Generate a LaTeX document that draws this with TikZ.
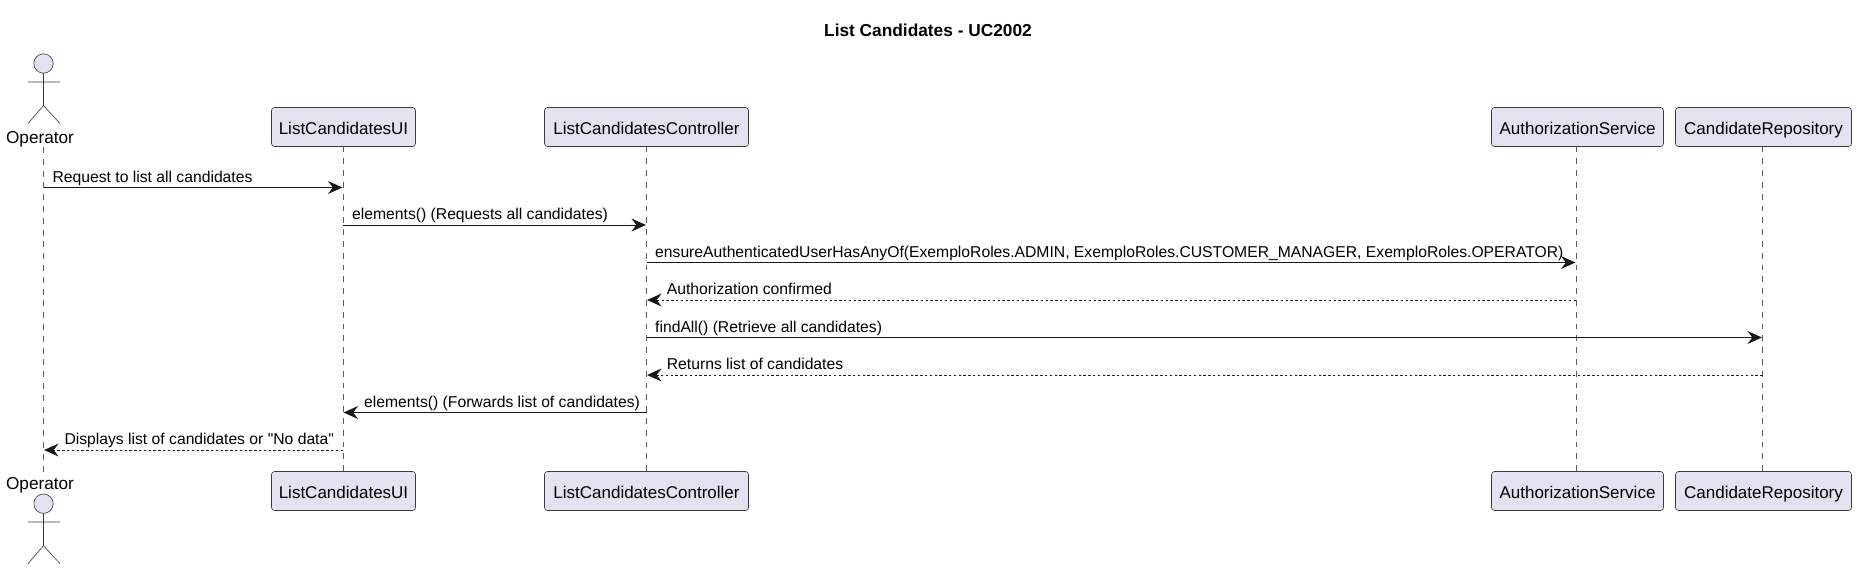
\documentclass[tikz,border=0pt]{standalone}
\usepackage{fontspec}
\setmainfont{Liberation Sans}
\newfontfamily\straightfont{Liberation Sans}
\usetikzlibrary{arrows.meta,positioning}
\definecolor{ink}{HTML}{181818}
\definecolor{partfill}{HTML}{E2E2F0}
\tikzset{
  x=1pt,y=-1pt,
  part/.style={draw=ink!85,fill=partfill,line width=0.6pt,rounded corners=3pt,minimum height=39pt,inner sep=0pt,outer sep=0pt,text height=18pt,text depth=3.4pt,font=\fontsize{17}{19}\selectfont,text=black},
  lifeline/.style={draw=ink!70,line width=0.6pt,dash pattern=on 5.9pt off 5.9pt},
  actorline/.style={draw=ink!85,line width=0.6pt,line cap=round},
  actorhead/.style={draw=ink!85,fill=partfill,line width=0.6pt,circle,minimum size=19.4pt,inner sep=0pt,outer sep=0pt},
  msgtip/.style={-{Stealth[length=14.5pt,width=13pt,inset=5pt,color=ink]}},
  msg/.style={draw=ink,line width=1pt,msgtip,shorten >=0.6pt},
  ret/.style={draw=ink,line width=1pt,dash pattern=on 2.4pt off 2.4pt,msgtip,shorten >=0.6pt},
  msglabel/.style={anchor=base west,inner sep=0pt,font=\fontsize{15.7}{17}\selectfont,text=black},
  actorlabel/.style={inner sep=0pt,anchor=base,font=\fontsize{17.2}{19}\selectfont,text=black},
  titlelabel/.style={inner sep=0pt,anchor=base,font=\fontsize{17.3}{19}\selectfont\bfseries,text=black}
}
\begin{document}
\begin{tikzpicture}
\useasboundingbox[fill=white] (0,0) rectangle (1857,570);
\node[titlelabel] (title) at (928,36) {List Candidates - UC2002};

% rows
\coordinate (r1) at (0,187.5);
\coordinate (r2) at (0,225);
\coordinate (r3) at (0,262.5);
\coordinate (r4) at (0,300);
\coordinate (r5) at (0,337.5);
\coordinate (r6) at (0,375);
\coordinate (r7) at (0,412.5);
\coordinate (r8) at (0,450);

% lifeline anchors for the actor
\coordinate (opT) at (43.5,147);
\coordinate (opB) at (43.5,471.5);

% participants top
\node[part,minimum width=144pt] (uiT) at (343.5,127) {ListCandidatesUI};
\node[part,minimum width=204pt] (ctlT) at (646.5,127) {ListCandidatesController};
\node[part,minimum width=172pt] (authT) at (1577.5,127) {AuthorizationService};
\node[part,minimum width=176pt] (repoT) at (1763.5,127) {CandidateRepository};
% participants bottom
\node[part,minimum width=144pt] (uiB) at (343.5,491) {ListCandidatesUI};
\node[part,minimum width=204pt] (ctlB) at (646.5,491) {ListCandidatesController};
\node[part,minimum width=172pt] (authB) at (1577.5,491) {AuthorizationService};
\node[part,minimum width=176pt] (repoB) at (1763.5,491) {CandidateRepository};

% lifelines
\draw[lifeline] (opT) -- (opB);
\draw[lifeline] (343,146.5) coordinate (uiL) -- (uiL |- uiB.north);
\draw[lifeline] (646.5,146.5) coordinate (ctlL) -- (ctlL |- ctlB.north);
\draw[lifeline] (1576,146.5) coordinate (authL) -- (authL |- authB.north);
\draw[lifeline] (1762.5,146.5) coordinate (repoL) -- (repoL |- repoB.north);

% actor top
\node[actorhead] (headT) at (43.5,63.5) {};
\coordinate (armLT) at (28,82);
\coordinate (armRT) at (60,82);
\coordinate (hipT) at (43.5,105.5);
\coordinate (footLT) at (28,123.5);
\coordinate (footRT) at (60,123.5);
\draw[actorline] (headT.south) -- (hipT) (armLT) -- (armRT) (footLT) -- (hipT) -- (footRT);
\node[actorlabel] (opLabelT) at (40,143.3) {Operator};

% actor bottom
\node[actorlabel] (opLabelB) at (40,489) {Operator};
\node[actorhead] (headB) at (43.5,503.7) {};
\coordinate (armLB) at (28,522);
\coordinate (armRB) at (60,522);
\coordinate (hipB) at (43.5,545.7);
\coordinate (footLB) at (28,563.7);
\coordinate (footRB) at (60,563.7);
\draw[actorline] (headB.south) -- (hipB) (armLB) -- (armRB) (footLB) -- (hipB) -- (footRB);

% messages
\draw[msg] (opT |- r1) -- (uiL |- r1);
\node[msglabel] (t1) at (52.4,182.2) {Request to list all candidates};
\draw[msg] (uiL |- r2) -- (ctlL |- r2);
\node[msglabel] (t2) at (352,219.7) {elements() (Requests all candidates)};
\draw[msg] (ctlL |- r3) -- (authL |- r3);
\node[msglabel] (t3) at (655,257.2) {ensureAuthenticatedUserHasAnyOf(ExemploRoles.ADMIN, ExemploRoles.CUSTOMER\_MANAGER, ExemploRoles.OPERATOR)};
\draw[ret] (authL |- r4) -- (ctlL |- r4);
\node[msglabel] (t4) at (666.7,294.7) {Authorization confirmed};
\draw[msg] (ctlL |- r5) -- (repoL |- r5);
\node[msglabel] (t5) at (655,332.2) {findAll() (Retrieve all candidates)};
\draw[ret] (repoL |- r6) -- (ctlL |- r6);
\node[msglabel] (t6) at (666.7,369.7) {Returns list of candidates};
\draw[msg] (ctlL |- r7) -- (uiL |- r7);
\node[msglabel] (t7) at (364,407.2) {elements() (Forwards list of candidates)};
\draw[ret] (uiL |- r8) -- (opT |- r8);
\node[msglabel] (t8) at (64.3,444.7) {Displays list of candidates or {\straightfont "No data"}};
\end{tikzpicture}
\end{document}
